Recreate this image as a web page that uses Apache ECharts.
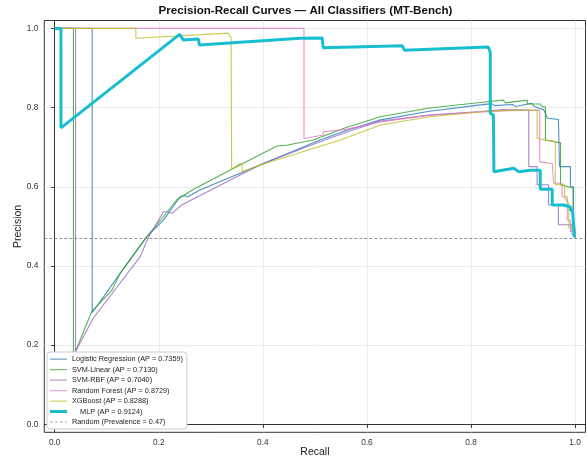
<!DOCTYPE html>
<html>
<head>
<meta charset="utf-8">
<script src="https://cdn.jsdelivr.net/npm/echarts@6/dist/echarts.min.js"></script>
<style>
  html, body { margin: 0; padding: 0; background: #fff; }
  #chart { width: 587px; height: 459px; }
</style>
</head>
<body>
<div id="chart"></div>
<script>
// labels / scores
const classifierNames = ['Logistic Regression', 'SVM-Linear', 'SVM-RBF', 'Random Forest', 'XGBoost', 'MLP']
const apScores = [0.7359, 0.7130, 0.7040, 0.8729, 0.8288, 0.9124]
const prevalence = 0.47
const tickValues = [0, 0.2, 0.4, 0.6, 0.8, 1.0]

// [recall, precision]
const logregPR = [
  [0, 1], [0.072, 1], [0.072, 0.282], [0.126, 0.382], [0.177, 0.474], [0.209, 0.516],
  [0.241, 0.575], [0.25, 0.578], [0.255, 0.574], [0.279, 0.592], [0.401, 0.659], [0.51, 0.718],
  [0.56, 0.742], [0.626, 0.769], [0.72, 0.791], [0.818, 0.807], [0.84, 0.81], [0.845, 0.805],
  [0.88, 0.808], [0.885, 0.803], [0.917, 0.811], [0.92, 0.804], [0.94, 0.794], [0.947, 0.773],
  [0.968, 0.77], [0.97, 0.651], [0.991, 0.651], [0.991, 0.6], [0.997, 0.6], [0.997, 0.478], [1, 0.472]
]
const svmLinearPR = [
  [0, 1], [0.036, 1], [0.036, 0.18], [0.04, 0.184], [0.071, 0.285], [0.11, 0.339], [0.126, 0.382],
  [0.177, 0.474], [0.206, 0.52], [0.235, 0.568], [0.267, 0.594], [0.356, 0.655], [0.427, 0.703],
  [0.43, 0.698], [0.445, 0.705], [0.497, 0.718], [0.56, 0.75], [0.626, 0.777], [0.72, 0.799],
  [0.818, 0.813], [0.862, 0.819], [0.866, 0.812], [0.908, 0.819], [0.908, 0.809], [0.933, 0.809],
  [0.937, 0.802], [0.943, 0.802], [0.943, 0.718], [0.972, 0.711], [0.972, 0.605], [0.996, 0.597],
  [0.996, 0.499], [1, 0.473]
]
const svmRbfPR = [
  [0, 1], [0.04, 1], [0.04, 0.184], [0.074, 0.268], [0.164, 0.423], [0.18, 0.472], [0.209, 0.537],
  [0.218, 0.537], [0.225, 0.533], [0.244, 0.554], [0.356, 0.63], [0.401, 0.659], [0.51, 0.714],
  [0.56, 0.738], [0.626, 0.766], [0.72, 0.781], [0.818, 0.79], [0.86, 0.795], [0.911, 0.794],
  [0.911, 0.651], [0.927, 0.651], [0.927, 0.605], [0.949, 0.605], [0.949, 0.554], [0.968, 0.554],
  [0.968, 0.504], [0.994, 0.504], [0.994, 0.48], [1, 0.473]
]
const randomForestPR = [
  [0, 1], [0.479, 1], [0.479, 0.722], [0.516, 0.731], [0.516, 0.739], [0.56, 0.745],
  [0.626, 0.764], [0.72, 0.781], [0.818, 0.789], [0.87, 0.792], [0.932, 0.794], [0.932, 0.663],
  [0.956, 0.659], [0.959, 0.659], [0.959, 0.609], [0.975, 0.609], [0.975, 0.575], [0.985, 0.575],
  [0.985, 0.516], [0.991, 0.516], [0.991, 0.487], [1, 0.487], [1, 0.473]
]
const xgboostPR = [
  [0, 1], [0.156, 1], [0.156, 0.975], [0.333, 0.988], [0.339, 0.976], [0.34, 0.645],
  [0.356, 0.658], [0.36, 0.658], [0.36, 0.638], [0.395, 0.655], [0.549, 0.718], [0.626, 0.756],
  [0.72, 0.777], [0.818, 0.789], [0.87, 0.793], [0.927, 0.794], [0.927, 0.722], [0.962, 0.714],
  [0.962, 0.605], [0.98, 0.605], [0.98, 0.572], [0.988, 0.558], [0.988, 0.496], [1, 0.496], [1, 0.473]
]
const mlpPR = [
  [0, 1], [0.012, 1], [0.012, 0.749], [0.24, 0.985], [0.247, 0.971], [0.276, 0.973], [0.278, 0.958],
  [0.472, 0.975], [0.514, 0.976], [0.516, 0.951], [0.668, 0.956], [0.672, 0.945], [0.833, 0.953],
  [0.837, 0.94], [0.837, 0.786], [0.843, 0.781], [0.844, 0.638], [0.882, 0.647], [0.892, 0.638],
  [0.914, 0.642], [0.933, 0.642], [0.933, 0.594], [0.956, 0.594], [0.956, 0.554], [0.978, 0.554],
  [0.981, 0.549], [0.991, 0.549], [0.991, 0.541], [0.995, 0.541], [0.999, 0.472]
]

const colors = ['#1f77b4', '#2ca02c', '#9467bd', '#e377c2', '#bcbd22', '#17becf']
const curves = [logregPR, svmLinearPR, svmRbfPR, randomForestPR, xgboostPR, mlpPR]
const font = "'Liberation Sans', Arial, sans-serif"

// legend handles: a 17x7 box with a line across the middle (tiny corner dots fix the box)
const corners = 'M0,0h0.01v0.01h-0.01z M16.99,6.99h0.01v0.01h-0.01z '
const thinIcon = 'path://' + corners + 'M0,2.9h17v1.3H0z'
const thickIcon = 'path://' + corners + 'M0,2h17v3H0z'
const dashIcon = 'path://' + corners + 'M0,3h3v1H0z M5,3h3v1H5z M10,3h3v1h-3z M15,3h2v1h-2z'

const series = curves.map((pts, i) => {
  const isMlp = i === 5
  return {
    name: classifierNames[i] + ' (AP = ' + apScores[i].toFixed(4) + ')',
    type: 'line',
    data: pts,
    symbol: 'none',
    showSymbol: false,
    silent: true,
    z: isMlp ? 5 : 2,
    lineStyle: { color: colors[i], width: isMlp ? 3 : 1.1, opacity: isMlp ? 1 : 0.8 },
    itemStyle: { color: colors[i], opacity: isMlp ? 1 : 0.65 }
  }
})
series.push({
  name: 'Random (Prevalence = ' + prevalence.toFixed(2) + ')',
  type: 'line',
  data: [],
  symbol: 'none',
  lineStyle: { color: '#999', width: 1, type: [3, 2] },
  itemStyle: { color: '#aaa' },
  markLine: {
    symbol: 'none',
    silent: true,
    label: { show: false },
    lineStyle: { color: '#888', width: 1, type: [3, 2], opacity: 0.9 },
    data: [{ yAxis: prevalence }]
  }
})

const legendData = series.map((s, i) => ({
  name: s.name,
  icon: i === 5 ? thickIcon : (i === 6 ? dashIcon : thinIcon)
}))

const chart = echarts.init(document.getElementById('chart'), null, { renderer: 'canvas' })
chart.setOption({
  animation: false,
  textStyle: { fontFamily: font },
  graphic: [{
    type: 'text',
    x: 305.5,
    y: 11,
    style: {
      text: 'Precision-Recall Curves \u2014 All Classifiers (MT-Bench)',
      font: 'bold 11.6px ' + font,
      fill: '#111',
      textAlign: 'center',
      textVerticalAlign: 'middle'
    }
  }],
  grid: {
    left: 44.3, right: 1.5, top: 20.5, bottom: 26.7,
    show: true, borderColor: '#333', borderWidth: 1,
    outerBoundsMode: 'none'
  },
  legend: {
    data: legendData,
    orient: 'vertical',
    left: 47, top: 352,
    itemWidth: 17, itemHeight: 7, itemGap: 1.5,
    padding: [2.5, 4, 2.5, 3],
    backgroundColor: '#fff',
    borderColor: '#ccc', borderWidth: 1, borderRadius: 3,
    textStyle: { fontSize: 7.3, lineHeight: 9, color: '#222', fontFamily: font },
    formatter: name => name.indexOf('MLP') === 0 ? '    ' + name : name
  },
  xAxis: {
    type: 'value', min: -0.02, max: 1.02,
    name: 'Recall', nameLocation: 'middle', nameGap: 14, nameMoveOverlap: false,
    nameTextStyle: { fontSize: 10.5, color: '#222' },
    axisLine: { show: true, lineStyle: { color: '#333' } },
    axisTick: { show: true, customValues: tickValues, length: 3.5, lineStyle: { color: '#333' } },
    axisLabel: { customValues: tickValues, formatter: v => v.toFixed(1), fontSize: 8.3, color: '#333', margin: 6 },
    splitLine: { show: true, lineStyle: { color: '#e6e6e6', width: 0.8 } }
  },
  yAxis: {
    type: 'value', min: -0.02, max: 1.02,
    name: 'Precision', nameLocation: 'middle', nameGap: 21, nameMoveOverlap: false,
    nameTextStyle: { fontSize: 10.5, color: '#222' },
    axisLine: { show: true, lineStyle: { color: '#333' } },
    axisTick: { show: true, customValues: tickValues, length: 3.5, lineStyle: { color: '#333' } },
    axisLabel: { customValues: tickValues, formatter: v => v.toFixed(1), fontSize: 8.3, color: '#333', margin: 6 },
    splitLine: { show: true, lineStyle: { color: '#e6e6e6', width: 0.8 } }
  },
  series: series
})
</script>
</body>
</html>
